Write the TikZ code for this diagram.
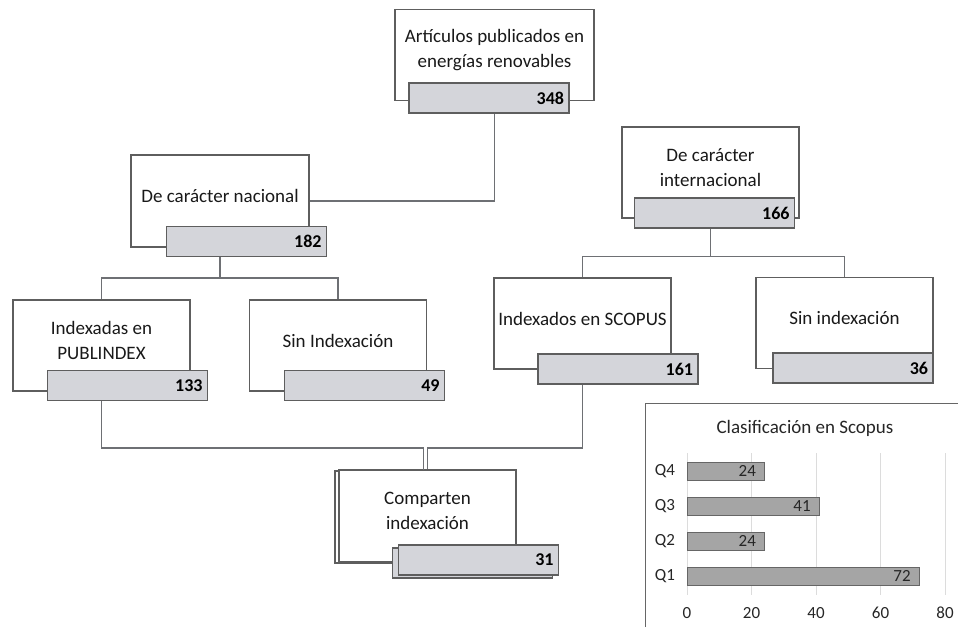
\documentclass[tikz,border=0pt]{standalone}
\usepackage{fontspec}
\setmainfont{Carlito}
\definecolor{linkgray}{HTML}{6E7074}
\definecolor{cardline}{HTML}{5E5E5E}
\definecolor{barfill}{HTML}{D4D5DA}
\definecolor{chartbar}{HTML}{A5A5A5}
\definecolor{gridgray}{HTML}{DCDCDC}
\tikzset{
  card/.style={draw=cardline, fill=white, line width=1.1pt, minimum width=177pt, minimum height=91pt, inner sep=0pt},
  cardtext/.style={font=\fontsize{19}{25}\selectfont, align=center, text=black!90, yshift=5pt},
  countbar/.style={draw=cardline, fill=barfill, line width=1.1pt, minimum width=160pt, minimum height=30pt, inner xsep=5pt, inner ysep=0pt, text width=150pt, align=right, font=\fontsize{18}{20}\selectfont\bfseries},
  link/.style={draw=linkgray, line width=1.3pt},
  qbar/.style={draw=black!60, fill=chartbar, line width=0.8pt},
  charttext/.style={font=\fontsize{17}{19}\selectfont, text=black!85},
}
\begin{document}
\begin{tikzpicture}[x=1pt,y=-1pt]
\useasboundingbox (0,0) rectangle (958,627);
% cards
\node[card, minimum width=199pt, label={[cardtext]center:{Artículos publicados en\\energías renovables}}] (top) at (494.5,55) {};
\node[card, minimum width=178pt, minimum height=92pt, label={[cardtext]center:{De carácter nacional}}] (nat) at (220,201) {};
\node[card, label={[cardtext]center:{De carácter\\internacional}}] (int) at (710.5,172.5) {};
\node[card, label={[cardtext]center:{Indexadas en\\PUBLINDEX}}] (pub) at (101.5,345.5) {};
\node[card, label={[cardtext]center:{Sin Indexación}}] (sin1) at (338,345.5) {};
\node[card, label={[cardtext]center:{Indexados en SCOPUS}}] (sco) at (582.5,323.5) {};
\node[card, label={[cardtext]center:{Sin indexación}}] (sin2) at (844.5,323) {};
\node[card, minimum height=92pt] (compB) at (423.5,517) {};
\node[card, minimum height=92pt, label={[cardtext]center:{Comparten\\indexación}}] (comp) at (427.5,516) {};
% count bars
\node[countbar] (topG) at (489,98) {348};
\node[countbar] (natG) at (246.5,241.5) {182};
\node[countbar] (intG) at (714.5,213) {166};
\node[countbar] (pubG) at (127.5,385.5) {133};
\node[countbar] (sin1G) at (364.5,385.5) {49};
\node[countbar] (scoG) at (618,369) {161};
\node[countbar] (sin2G) at (853,368) {36};
\node[countbar] (compGB) at (472.5,563) {};
\node[countbar] (compG) at (478.5,560) {31};
% links
\draw[link] (top.center |- topG.south) |- (nat.east);
\draw[link] (nat.center |- natG.south) -- ++(0,21) coordinate (natJ);
\draw[link] (pub.north) |- (natJ) -| (sin1.north);
\draw[link] (int.center |- intG.south) -- ++(0,28) coordinate (intJ);
\draw[link] (sco.north) |- (intJ) -| (sin2.north);
\coordinate (meet) at (0,448);
\draw[link] (pub.center |- pubG.south) -- (pub.center |- meet) -| (compB.north);
\draw[link] (sco.center |- scoG.south) -- (sco.center |- meet) -| (comp.north);
% chart
\draw[black!60, line width=1pt] (645,627) -- (645,403) -- (958,403);
\node[charttext, font=\fontsize{19}{21}\selectfont] (title) at (805,428) {Clasificación en Scopus};
\foreach \k in {0,1,2,3,4} {
  \draw[gridgray, line width=1pt] (687+64.5*\k,453) -- (687+64.5*\k,595);
  \node[charttext] (tick\k) at (687+64.5*\k,613) {\pgfmathparse{int(20*\k)}\pgfmathresult};
}
\foreach \q/\v/\y in {Q4/24/471, Q3/41/506, Q2/24/541, Q1/72/576} {
  \draw[qbar] (687,\y-9) rectangle (687+3.225*\v,\y+9);
  \node[charttext] (lab\q) at (665,\y) {\q};
  \node[charttext, anchor=east] (val\q) at (687+3.225*\v-5,\y) {\v};
}
\end{tikzpicture}
\end{document}
